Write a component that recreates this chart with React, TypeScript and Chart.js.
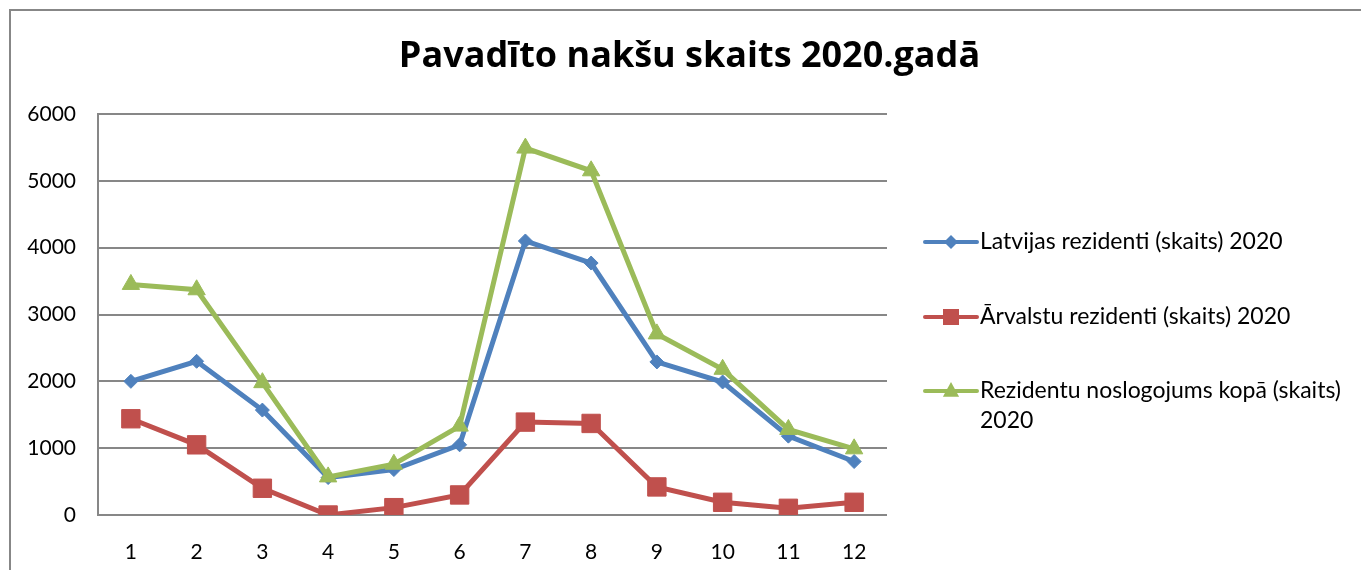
import React, { useEffect, useRef } from 'react';
import { Chart, registerables } from 'chart.js';

Chart.register(...registerables);

const chartTitle = 'Pavadīto nakšu skaits 2020.gadā';
const months = ['1', '2', '3', '4', '5', '6', '7', '8', '9', '10', '11', '12'];
const seriesNames = [
  'Latvijas rezidenti (skaits) 2020',
  'Ārvalstu rezidenti (skaits) 2020',
  'Rezidentu noslogojums kopā (skaits) 2020',
];
const latvianResidents = [2000, 2300, 1570, 560, 680, 1050, 4100, 3770, 2290, 1990, 1180, 800];
const foreignResidents = [1440, 1050, 400, 0, 110, 300, 1390, 1370, 420, 190, 100, 190];
const totalResidents = [3450, 3370, 1980, 570, 760, 1330, 5490, 5150, 2710, 2180, 1280, 990];
const yMin = 0;
const yMax = 6000;
const yStep = 1000;

const BLUE = '#4F81BD';
const RED = '#C0504D';
const GREEN = '#9BBB59';
const GRID = '#878787';
const FONT = 'Lato, "Open Sans", sans-serif';
const TITLE_FONT = '"Open Sans", Lato, sans-serif';

const legendPlugin = {
  id: 'sideLegend',
  afterDraw(chart: any) {
    const ctx = chart.ctx as CanvasRenderingContext2D;
    const rows = [242, 317, 391];
    const lineX0 = 925;
    const lineX1 = 977;
    const textX = 980;
    const maxW = 372;
    ctx.save();
    ctx.font = `23px ${FONT}`;
    ctx.textBaseline = 'middle';
    ctx.textAlign = 'left';
    chart.data.datasets.forEach((ds: any, i: number) => {
      const y = rows[i];
      const color = ds.borderColor;
      ctx.strokeStyle = color;
      ctx.fillStyle = color;
      ctx.lineWidth = 4;
      ctx.lineCap = 'round';
      ctx.beginPath();
      ctx.moveTo(lineX0, y);
      ctx.lineTo(lineX1, y);
      ctx.stroke();
      const mx = (lineX0 + lineX1) / 2;
      ctx.beginPath();
      if (ds.pointStyle === 'rectRot') {
        const r = 7;
        ctx.moveTo(mx - r, y);
        ctx.lineTo(mx, y - r);
        ctx.lineTo(mx + r, y);
        ctx.lineTo(mx, y + r);
        ctx.closePath();
      } else if (ds.pointStyle === 'rect') {
        const s = 8;
        ctx.rect(mx - s, y - s, 2 * s, 2 * s);
      } else {
        const r = 9;
        ctx.moveTo(mx, y - r);
        ctx.lineTo(mx + r * 0.9, y + r * 0.65);
        ctx.lineTo(mx - r * 0.9, y + r * 0.65);
        ctx.closePath();
      }
      ctx.fill();
      const words = String(ds.label).split(' ');
      const lines: string[] = [];
      let cur = '';
      words.forEach((w) => {
        const test = cur ? cur + ' ' + w : w;
        if (ctx.measureText(test).width > maxW && cur) {
          lines.push(cur);
          cur = w;
        } else {
          cur = test;
        }
      });
      if (cur) lines.push(cur);
      ctx.fillStyle = '#000';
      lines.forEach((ln, k) => ctx.fillText(ln, textX, y + k * 30));
    });
    ctx.restore();
  },
};

export default function App() {
  const ref = useRef<HTMLCanvasElement | null>(null);

  useEffect(() => {
    if (!ref.current) return;
    const chart = new Chart(ref.current, {
      type: 'line',
      data: {
        labels: months,
        datasets: [
          {
            label: seriesNames[0],
            data: latvianResidents,
            borderColor: BLUE,
            backgroundColor: BLUE,
            borderWidth: 5,
            pointStyle: 'rectRot',
            pointRadius: 7,
            pointBorderWidth: 1,
            order: 2,
          },
          {
            label: seriesNames[1],
            data: foreignResidents,
            borderColor: RED,
            backgroundColor: RED,
            borderWidth: 5,
            pointStyle: 'rect',
            pointRadius: 13,
            pointBorderWidth: 1,
            order: 1,
          },
          {
            label: seriesNames[2],
            data: totalResidents,
            borderColor: GREEN,
            backgroundColor: GREEN,
            borderWidth: 5,
            pointStyle: 'triangle',
            pointRadius: 10,
            pointBorderWidth: 1,
            order: 0,
          },
        ],
      },
      options: {
        responsive: false,
        animation: false,
        layout: { padding: { left: 18, right: 0, top: 0, bottom: 0 } },
        plugins: {
          legend: { display: false },
          tooltip: { enabled: false },
          title: {
            display: true,
            text: chartTitle,
            color: '#000',
            font: { family: TITLE_FONT, size: 36, weight: 'bold', lineHeight: 1.2 },
            padding: { top: 35.4, bottom: 35.4 },
          },
        },
        scales: {
          x: {
            type: 'category',
            offset: true,
            grid: { display: false, drawTicks: false },
            border: { display: false },
            ticks: { color: '#000', font: { family: FONT, size: 21 }, padding: 25, maxRotation: 0 },
            afterFit: (s: any) => {
              s.height = 55;
            },
          },
          y: {
            min: yMin,
            max: yMax,
            ticks: {
              stepSize: yStep,
              color: '#000',
              font: { family: FONT, size: 21 },
              padding: 22,
              callback: (v: any) => String(v),
            },
            grid: { color: GRID, lineWidth: 2, drawTicks: false },
            border: { display: true, color: GRID, width: 2 },
            afterFit: (s: any) => {
              s.width = 80;
            },
          },
          yRight: {
            position: 'right',
            display: true,
            grid: { display: false, drawTicks: false },
            border: { display: false },
            ticks: { display: false },
            afterFit: (s: any) => {
              s.width = 474;
            },
          },
        },
      },
      plugins: [legendPlugin],
    });
    return () => chart.destroy();
  }, []);

  return (
    <div style={{ position: 'fixed', left: 0, top: 0, width: 1361, height: 570, overflow: 'hidden', background: '#fff' }}>
      <div
        style={{
          position: 'absolute',
          left: 9,
          top: 9,
          width: 1420,
          height: 620,
          border: `2px solid ${GRID}`,
          boxSizing: 'border-box',
        }}
      />
      <canvas ref={ref} width={1361} height={570} style={{ position: 'absolute', left: 0, top: 0 }} />
    </div>
  );
}
